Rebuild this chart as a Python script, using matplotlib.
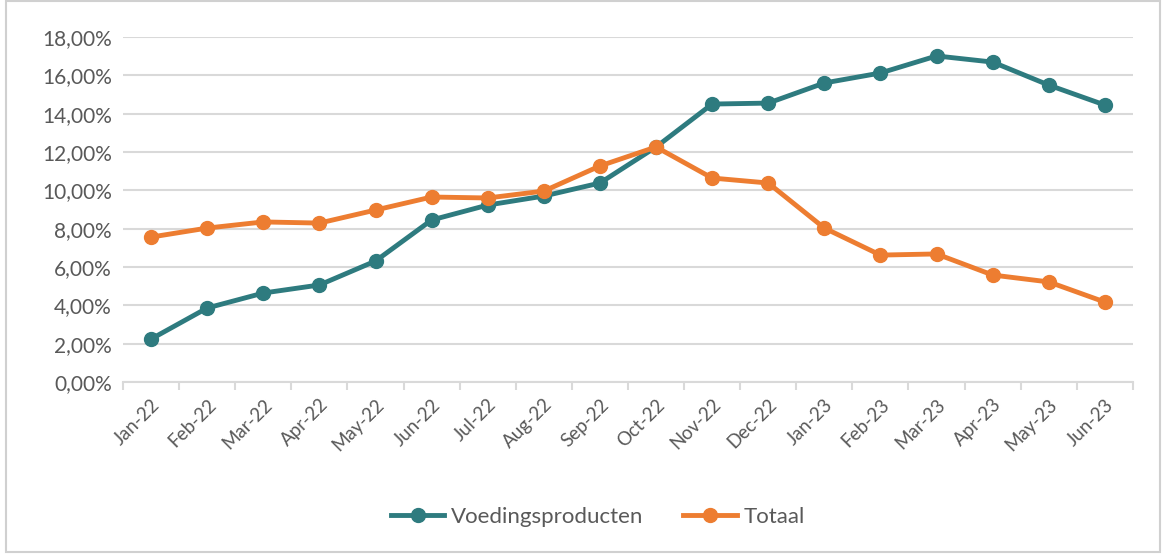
import matplotlib.pyplot as plt
from matplotlib.patches import Rectangle
from matplotlib.ticker import FuncFormatter

months = ["Jan-22", "Feb-22", "Mar-22", "Apr-22", "May-22", "Jun-22", "Jul-22", "Aug-22", "Sep-22",
          "Oct-22", "Nov-22", "Dec-22", "Jan-23", "Feb-23", "Mar-23", "Apr-23", "May-23", "Jun-23"]
voeding = [2.24, 3.86, 4.64, 5.06, 6.31, 8.45, 9.23, 9.70, 10.38,
           12.26, 14.50, 14.55, 15.60, 16.12, 17.01, 16.69, 15.49, 14.45]
totaal = [7.56, 8.03, 8.35, 8.29, 8.97, 9.65, 9.60, 9.96, 11.27,
          12.26, 10.64, 10.38, 8.03, 6.62, 6.68, 5.58, 5.22, 4.17]

plt.rcParams['font.family'] = ['Lato', 'DejaVu Sans']
teal = "#2E7B7F"
orange = "#ED7D31"
grey = "#595959"

fig = plt.figure(figsize=(11.74, 5.56), dpi=100)
fig.patches.append(Rectangle((0.005, 0.008), 0.983, 0.99, transform=fig.transFigure,
                             fill=False, edgecolor="#D0D0D0", linewidth=1.5))
ax = fig.add_axes([0.1048, 0.313, 0.8602, 0.6205])

x = list(range(len(months)))
ax.plot(x, voeding, color=teal, linewidth=3.5, marker="o", markersize=10, label="Voedingsproducten", zorder=3)
ax.plot(x, totaal, color=orange, linewidth=3.5, marker="o", markersize=10, label="Totaal", zorder=3)

ax.set_xlim(-0.5, len(months) - 0.5)
ax.set_ylim(0, 18)
ax.set_yticks(range(0, 19, 2))
ax.yaxis.set_major_formatter(FuncFormatter(lambda v, p: f"{v:.2f}%".replace(".", ",")))
ax.grid(axis="y", color="#D9D9D9", linewidth=1.5)
ax.set_axisbelow(True)

ax.set_xticks(x)
ax.set_xticklabels(months, rotation=45, ha="right", rotation_mode="anchor")
ax.set_xticks([i - 0.5 for i in range(len(months) + 1)], minor=True)
ax.tick_params(axis="x", which="major", length=0, pad=10, labelsize=13.5, labelcolor=grey)
ax.tick_params(axis="x", which="minor", length=6, color="#D9D9D9", width=1.5)
ax.tick_params(axis="y", length=0, labelsize=15, labelcolor=grey, pad=8)

for side in ["top", "right", "left"]:
    ax.spines[side].set_visible(False)
ax.spines["bottom"].set_color("#D9D9D9")
ax.spines["bottom"].set_linewidth(1.5)

ax.legend(loc="center", bbox_to_anchor=(0.47, -0.39), ncol=2, frameon=False,
          fontsize=16, labelcolor=grey, handlelength=2.4, columnspacing=1.8, handletextpad=0.3)

fig.savefig("out.png", dpi=100)
